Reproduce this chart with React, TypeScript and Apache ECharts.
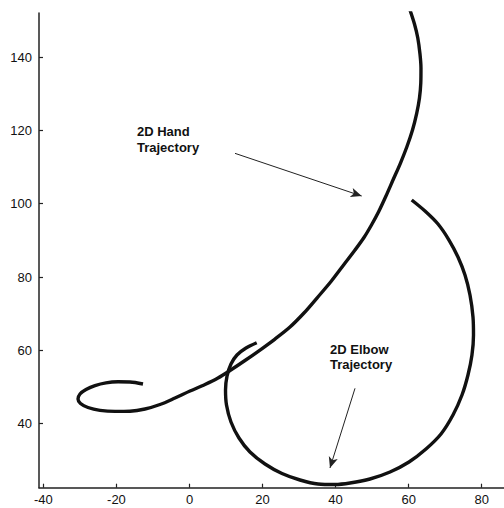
import React, { useEffect, useRef } from "react";
import * as echarts from "echarts";

const xTicks = [-40, -20, 0, 20, 40, 60, 80];
const yTicks = [40, 60, 80, 100, 120, 140];

const handTrajectory: [number, number][] = [
  [-12.73, 50.83], [-16.29, 51.38], [-19.57, 51.43], [-22.86, 51.16], [-25.87, 50.42],
  [-28.33, 49.33], [-29.98, 48.11], [-30.52, 46.74], [-29.84, 45.52], [-27.79, 44.43],
  [-24.5, 43.66], [-20.39, 43.36], [-16.29, 43.42], [-12.18, 44.02], [-8.08, 45.24],
  [-3.97, 47.02], [0.14, 48.92], [4.24, 50.7], [7.8, 52.47], [11.09, 54.51],
  [15.19, 57.24], [19.3, 60.1], [23.41, 63.1], [27.51, 66.37], [31.34, 70.19],
  [34.9, 74.28], [38.74, 78.78], [42.29, 83.42], [45.31, 87.37], [47.77, 90.78],
  [49.82, 94.19], [51.74, 97.73], [53.79, 102.09], [55.71, 106.45], [57.76, 111.09],
  [59.54, 115.59], [61.05, 120.09], [62.2, 124.64], [62.96, 128.81], [63.32, 132.9],
  [63.37, 136.99], [63.1, 140.81], [62.5, 145.17], [61.59, 148.99], [60.36, 152.81],
  [59.54, 154.99],
];

const elbowTrajectory: [number, number][] = [
  [18.4, 62.09], [15.47, 60.65], [13.0, 58.74], [11.36, 56.29], [10.27, 53.01],
  [9.86, 49.2], [10.13, 45.11], [11.36, 40.47], [13.55, 36.11], [16.56, 32.29],
  [20.67, 29.02], [25.32, 26.43], [30.25, 24.66], [35.18, 23.57], [39.83, 23.43],
  [43.94, 23.84], [49.41, 24.93], [54.89, 26.84], [60.09, 29.57], [64.74, 33.11],
  [68.85, 37.2], [72.13, 42.38], [74.6, 47.83], [76.24, 53.29], [77.33, 58.74],
  [77.75, 64.19], [77.61, 69.1], [76.79, 75.1], [75.42, 80.55], [73.5, 85.46],
  [71.04, 90.1], [68.03, 94.46], [64.47, 98.0], [60.83, 101.0],
];

const handArrow: [number, number][] = [[12.46, 113.73], [47.14, 102.09]];
const elbowArrow: [number, number][] = [[45.31, 49.66], [38.46, 27.93]];

const handLabel = "2D Hand\nTrajectory";
const elbowLabel = "2D Elbow\nTrajectory";

const FONT = "'Liberation Sans', Arial, Helvetica, sans-serif";
const INK = "#111";

export default function App() {
  const ref = useRef<HTMLDivElement>(null);

  useEffect(() => {
    if (!ref.current) return;
    const chart = echarts.init(ref.current, undefined, { renderer: "svg" });

    const axisCommon = {
      type: "value" as const,
      splitLine: { show: false },
      axisLine: { show: true, onZero: false, lineStyle: { color: "#222", width: 1.5 } },
      axisTick: { show: true, inside: true, length: 4, lineStyle: { color: "#222", width: 1.2 } },
      axisLabel: { color: INK, fontSize: 13, fontFamily: FONT },
    };

    const arrowMark = (pts: [number, number][]) => ({
      silent: true,
      symbol: ["none", "arrow"],
      symbolSize: [7, 11],
      label: { show: false },
      lineStyle: { color: "#222", width: 1, type: "solid" },
      emphasis: { disabled: true },
      data: [[{ coord: pts[0] }, { coord: pts[1] }]],
    });

    chart.setOption({
      animation: false,
      backgroundColor: "#fff",
      grid: { left: 39, top: 13, right: 0, bottom: 20.3, containLabel: false },
      xAxis: {
        ...axisCommon,
        min: -41.2,
        max: 86.1,
        axisTick: { ...axisCommon.axisTick, customValues: xTicks },
        axisLabel: { ...axisCommon.axisLabel, customValues: xTicks, margin: 5 },
      },
      yAxis: {
        ...axisCommon,
        min: 22.56,
        max: 152,
        axisTick: { ...axisCommon.axisTick, customValues: yTicks },
        axisLabel: { ...axisCommon.axisLabel, customValues: yTicks, margin: 7 },
      },
      series: [
        {
          type: "line",
          name: "Hand",
          data: handTrajectory,
          symbol: "none",
          smooth: 0.3,
          lineStyle: { color: INK, width: 3.4 },
          markLine: arrowMark(handArrow),
        },
        {
          type: "line",
          name: "Elbow",
          data: elbowTrajectory,
          symbol: "none",
          smooth: 0.3,
          lineStyle: { color: INK, width: 3.4 },
          markLine: arrowMark(elbowArrow),
        },
      ],
      graphic: [
        {
          type: "text",
          left: 137,
          top: 124,
          style: { text: handLabel, fill: INK, font: `bold 13px ${FONT}`, lineHeight: 15.5 },
        },
        {
          type: "text",
          left: 330,
          top: 341.5,
          style: { text: elbowLabel, fill: INK, font: `bold 13px ${FONT}`, lineHeight: 15.5 },
        },
      ],
    });

    return () => chart.dispose();
  }, []);

  return (
    <div
      ref={ref}
      style={{ position: "fixed", left: 0, top: 0, width: 504, height: 508, background: "#fff" }}
    />
  );
}
